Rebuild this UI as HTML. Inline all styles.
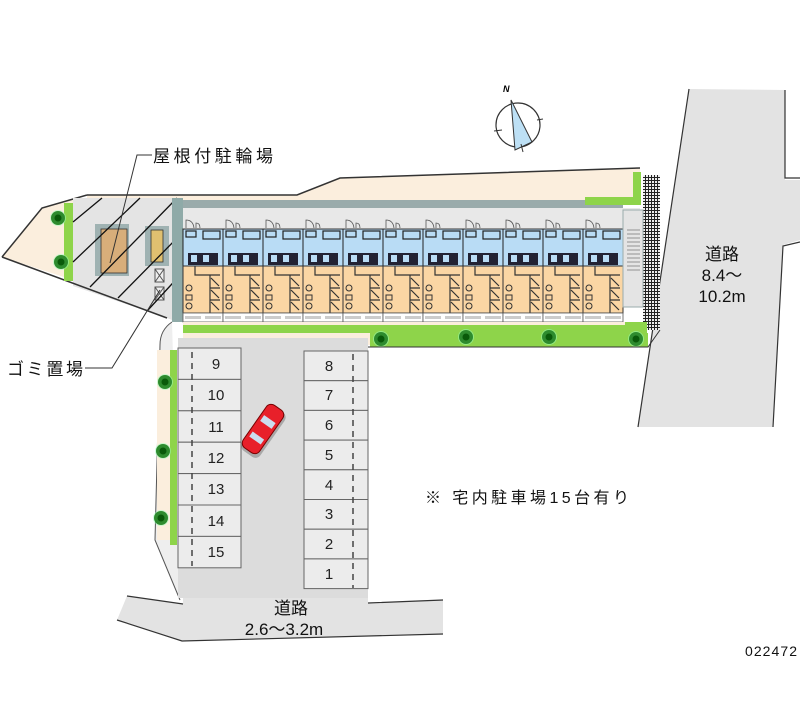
<!DOCTYPE html>
<html><head><meta charset="utf-8"><style>
html,body{margin:0;padding:0;background:#fff;}
svg{display:block;}
text{font-family:"Liberation Sans","Noto Sans CJK JP",sans-serif;}
</style></head><body>
<svg width="800" height="727" viewBox="0 0 800 727" xmlns="http://www.w3.org/2000/svg">
<defs>
<pattern id="mesh" width="3" height="3" patternUnits="userSpaceOnUse">
<rect width="3" height="3" fill="#eee"/><path d="M0 0.5H3M0.5 0V3" stroke="#222" stroke-width="1"/>
</pattern>
<g id="unit">
<rect x="0" y="0" width="40" height="10" fill="#e8e8e8"/>
<path d="M3 10 V2 Q10 2 11 10 M13 10 V5 Q17 5 17 10" stroke="#555" fill="none" stroke-width="0.8"/>
<rect x="0" y="11" width="40" height="37" fill="#b9dcf5" stroke="#222" stroke-width="1"/>
<rect x="3" y="13" width="10" height="6" fill="none" stroke="#222" stroke-width="1.2"/>
<rect x="20" y="13" width="17" height="8" fill="none" stroke="#222" stroke-width="1.2"/>
<rect x="5" y="35" width="30" height="12" fill="#223" />
<rect x="8" y="37" width="6" height="7" fill="#b9dcf5"/>
<rect x="20" y="37" width="6" height="7" fill="#b9dcf5"/>
<rect x="0" y="48" width="40" height="47" fill="#fbd6a4" stroke="#333" stroke-width="1"/>
<path d="M12 48 V57 H27 V95 M27 57 H37 M27 70 H37 M27 82 H37" stroke="#333" fill="none" stroke-width="1.2"/>
<path d="M28 72 L36 80 M28 84 L36 92 M28 60 L36 68" stroke="#333" stroke-width="1.2"/>
<circle cx="6" cy="70" r="3" fill="none" stroke="#333"/>
<rect x="3" y="77" width="6" height="5" fill="none" stroke="#333"/>
<circle cx="6" cy="88" r="3" fill="none" stroke="#333"/>
<rect x="0" y="95" width="40" height="9" fill="#fff" stroke="#555" stroke-width="0.8"/>
<rect x="2" y="98" width="16" height="3" fill="#ccc"/>
<rect x="22" y="98" width="16" height="3" fill="#ccc"/>
</g>
<g id="tree">
<circle r="8" fill="#9fb" opacity="0.5"/>
<circle r="7" fill="#2e8b2e"/>
<circle r="3.5" fill="#0a5a0a"/>
</g>
</defs>

<polygon points="689,89 785,90 785,180 800,180 800,240 783,245 773,427 638,427" fill="#e3e3e3"/>
<path d="M689,89 L638,427 M785,90 V178 H800 M800,242 L783,246 L773,427" stroke="#333" fill="none" stroke-width="1.2"/>

<polygon points="127,596 183,604 183,598 368,595 368,603 443,600 443,634 182,641 117,620" fill="#e3e3e3"/>
<path d="M127,596 L183,604 M368,603 L443,600 M117,620 L182,641 L443,634" stroke="#333" fill="none" stroke-width="1.2"/>

<polygon points="87,195 297,195 340,178 640,168 640,200 87,200" fill="#fbeedd"/>
<path d="M87,195 L297,195 L340,178 L640,168" stroke="#333" fill="none" stroke-width="1.5"/>
<polygon points="2,257 42,208 87,195 73,198 73,280 2,257" fill="#fbeedd"/>
<path d="M2,257 L42,208 L87,195" stroke="#333" fill="none" stroke-width="1.5"/>
<polygon points="73,198 172,198 172,320 167,318 73,286" fill="#e4e4e4"/>
<path d="M2,257 L167,318" stroke="#333" stroke-width="1.5"/>
<rect x="64" y="203" width="9" height="78" fill="#8ed44a"/>
<use href="#tree" x="58" y="218"/>
<use href="#tree" x="61" y="262"/>
<rect x="95" y="224" width="34" height="52" fill="#9fb2b2"/>
<rect x="101" y="229" width="26" height="44" fill="#d8ae7a" stroke="#333" stroke-width="0.8"/>
<rect x="145" y="226" width="24" height="40" fill="#9fb2b2"/>
<rect x="151" y="230" width="12" height="32" fill="#e0c070" stroke="#333" stroke-width="0.8"/>
<rect x="155" y="269" width="9" height="13" fill="#eee" stroke="#555"/>
<path d="M155 269 L164 282 M164 269 L155 282" stroke="#555"/>
<rect x="155" y="287" width="9" height="13" fill="#eee" stroke="#555"/>
<path d="M155 287 L164 300 M164 287 L155 300" stroke="#555"/>
<g stroke="#111" stroke-width="1.3">
<line x1="73" y1="222" x2="102" y2="198"/>
<line x1="73" y1="262" x2="140" y2="198"/>
<line x1="90" y1="287" x2="177" y2="198"/>
<line x1="118" y1="298" x2="182" y2="233"/>
<line x1="148" y1="310" x2="182" y2="273"/>
</g>
<rect x="172" y="198" width="11" height="124" fill="#8faaa8"/>

<rect x="183" y="200" width="440" height="8" fill="#9aabab"/>
<rect x="183" y="208" width="457" height="10" fill="#e8e8e8"/>
<g>
<use href="#unit" x="183" y="218"/><use href="#unit" x="223" y="218"/><use href="#unit" x="263" y="218"/>
<use href="#unit" x="303" y="218"/><use href="#unit" x="343" y="218"/><use href="#unit" x="383" y="218"/>
<use href="#unit" x="423" y="218"/><use href="#unit" x="463" y="218"/><use href="#unit" x="503" y="218"/>
<use href="#unit" x="543" y="218"/><use href="#unit" x="583" y="218"/>
</g>
<rect x="585" y="197" width="55" height="8" fill="#8ed44a"/>
<rect x="633" y="172" width="8" height="33" fill="#8ed44a"/>
<rect x="643" y="175" width="17" height="155" fill="url(#mesh)"/>
<rect x="623" y="210" width="20" height="97" fill="#e4e4e4" stroke="#9aabab"/>
<g stroke="#777" stroke-width="0.7"><path d="M627 230H640M627 234H640M627 238H640M627 242H640M627 246H640M627 250H640M627 254H640M627 258H640M627 262H640M627 266H640M627 270H640"/></g>
<rect x="183" y="322" width="460" height="23" fill="#fbeedd"/>
<rect x="183" y="325" width="460" height="8" fill="#8ed44a"/>
<rect x="370" y="333" width="278" height="14" fill="#8ed44a"/>
<rect x="625" y="322" width="22" height="24" fill="#8ed44a"/>
<use href="#tree" x="381" y="339"/><use href="#tree" x="466" y="337"/>
<use href="#tree" x="549" y="337"/><use href="#tree" x="636" y="339"/>
<path d="M183,347 L648,347 L660,330" stroke="#333" fill="none" stroke-width="1"/>

<path d="M172,322 Q160,330 160,345 L155,540 L180,600" fill="#eee" stroke="#555" stroke-width="1"/>
<rect x="157" y="350" width="14" height="190" fill="#fbeedd"/>
<rect x="170" y="350" width="7" height="195" fill="#8ed44a"/>
<use href="#tree" x="165" y="382"/><use href="#tree" x="163" y="451"/><use href="#tree" x="161" y="518"/>

<rect x="178" y="338" width="190" height="260" fill="#dcdcdc"/>
<g fill="#ececec" stroke="#666" stroke-width="1">
<rect x="178" y="348" width="63" height="31.4"/><rect x="178" y="379.4" width="63" height="31.4"/>
<rect x="178" y="410.8" width="63" height="31.4"/><rect x="178" y="442.2" width="63" height="31.4"/>
<rect x="178" y="473.6" width="63" height="31.4"/><rect x="178" y="505" width="63" height="31.4"/>
<rect x="178" y="536.4" width="63" height="31.4"/>
<rect x="304" y="351" width="64" height="29.7"/><rect x="304" y="380.7" width="64" height="29.7"/>
<rect x="304" y="410.4" width="64" height="29.7"/><rect x="304" y="440.1" width="64" height="29.7"/>
<rect x="304" y="469.8" width="64" height="29.7"/><rect x="304" y="499.5" width="64" height="29.7"/>
<rect x="304" y="529.2" width="64" height="29.7"/><rect x="304" y="558.9" width="64" height="29.7"/>
</g>
<path d="M192 352V566M353 354V588" stroke="#444" stroke-width="1.5" stroke-dasharray="6,5"/>
<g font-size="15" text-anchor="middle" fill="#222">
<text x="216" y="369">9</text><text x="216" y="400">10</text><text x="216" y="432">11</text>
<text x="216" y="463">12</text><text x="216" y="494">13</text><text x="216" y="526">14</text>
<text x="216" y="557">15</text>
<text x="329" y="371">8</text><text x="329" y="400">7</text><text x="329" y="430">6</text>
<text x="329" y="460">5</text><text x="329" y="490">4</text><text x="329" y="519">3</text>
<text x="329" y="549">2</text><text x="329" y="579">1</text>
</g>
<g transform="translate(263,429) rotate(35)">
<rect x="-11" y="-27" width="22" height="54" rx="6" fill="#333" opacity="0.3" transform="translate(2,2)"/>
<rect x="-10" y="-26" width="20" height="52" rx="6" fill="#e8202a" stroke="#700" stroke-width="1"/>
<rect x="-7" y="-12" width="14" height="7" fill="#cde" />
<rect x="-7" y="8" width="14" height="6" fill="#cde"/>
</g>

<circle cx="518" cy="125" r="22" fill="none" stroke="#333" stroke-width="1.2"/>
<polygon points="511,100 532,142 515,150" fill="#bde0f5" stroke="#333" stroke-width="1"/>
<path d="M494,131 L502,130 M537,120 L543,119 M521,144 L523,152" stroke="#333"/>
<text x="503" y="92" font-size="9" font-family="Liberation Serif,serif" font-style="italic" font-weight="bold">N</text>

<path d="M152,155 H137 L110,263" stroke="#333" fill="none" stroke-width="1"/>
<text x="153" y="162" font-size="17" fill="#111" textLength="120">屋根付駐輪場</text>
<path d="M85,368 H112 L160,290" stroke="#333" fill="none" stroke-width="1"/>
<text x="7" y="375" font-size="17" fill="#111" textLength="76">ゴミ置場</text>
<g font-size="17" fill="#111" text-anchor="middle">
<text x="722" y="260">道路</text>
<text x="722" y="281">8.4～</text>
<text x="722" y="302">10.2m</text>
<text x="291" y="614">道路</text>
<text x="284" y="635">2.6～3.2m</text>
</g>
<text x="425" y="503" font-size="16" fill="#111" textLength="204">※ 宅内駐車場15台有り</text>
<text x="745" y="656" font-size="14" fill="#111" textLength="52">022472</text>
</svg>
</body></html>
